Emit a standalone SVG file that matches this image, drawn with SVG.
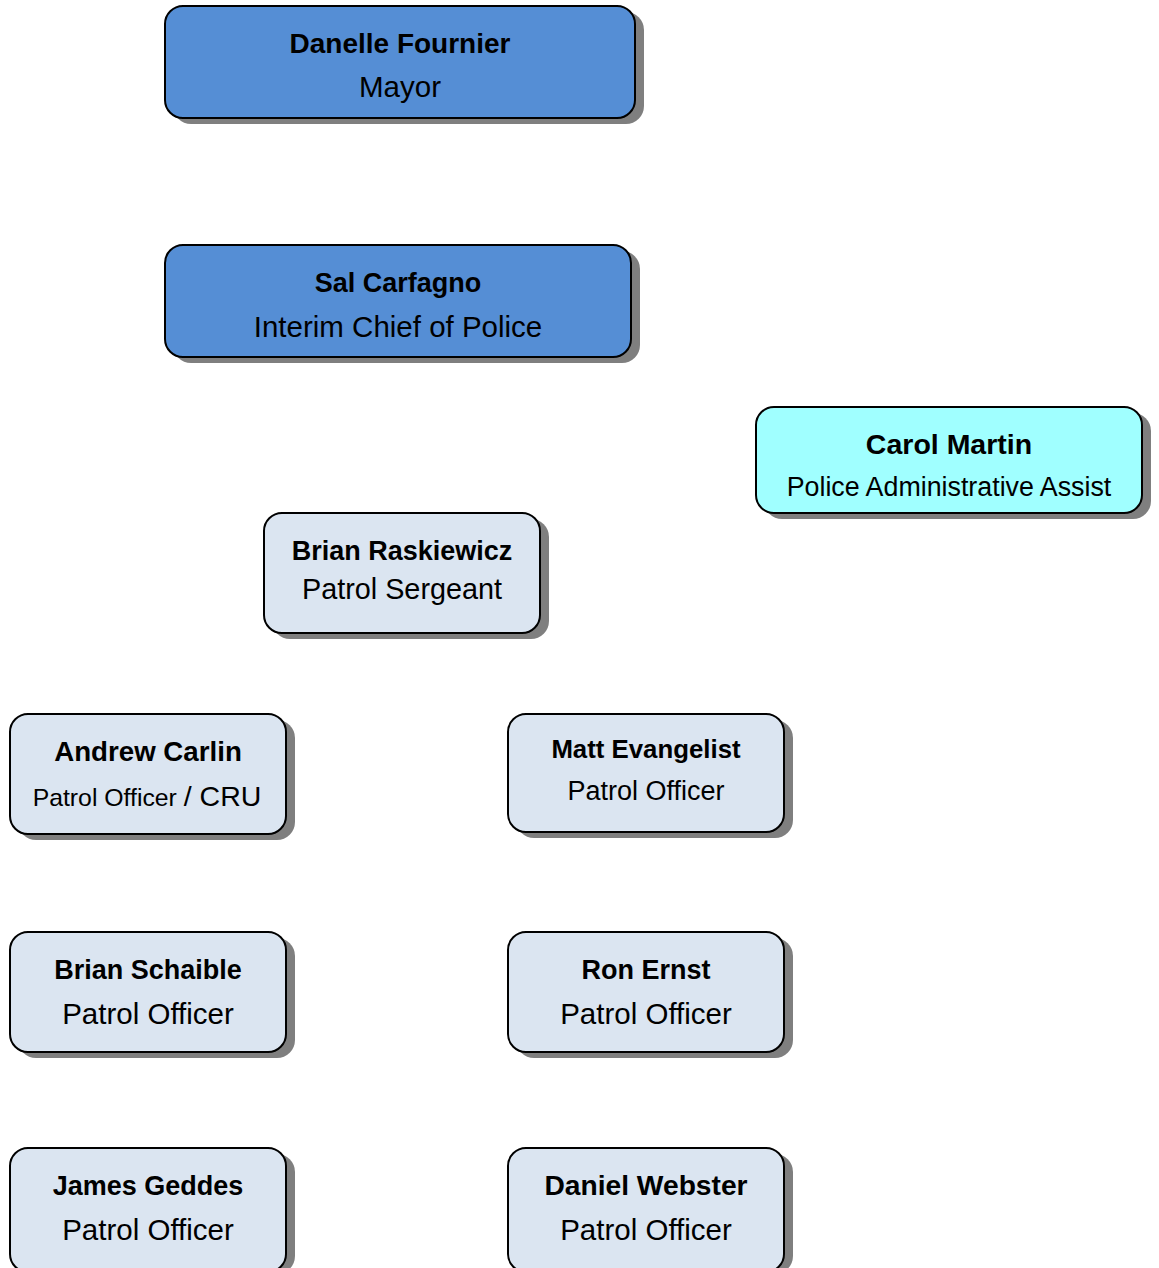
<svg xmlns="http://www.w3.org/2000/svg" width="1159" height="1268" viewBox="0 0 1159 1268">
<style>
.sh{fill:#7f7f7f;}
.bx{stroke:#000;stroke-width:2;}
.blue{fill:#558ED5;}
.cyan{fill:#A0FFFF;}
.lt{fill:#DBE5F1;}
text{font-family:"Liberation Sans",Arial,sans-serif;text-anchor:middle;fill:#000;}
.n{font-weight:bold;font-size:27px;}
.t{font-size:29.5px;}
</style>
<rect width="1159" height="1268" fill="#fff"/>
<g id="connectors"></g>
<g id="node-fournier">
<rect class="sh" x="173" y="12" width="471" height="112" rx="18"/>
<rect class="bx blue" x="165" y="6" width="470" height="112" rx="18"/>
<text class="n" x="400" y="53" style="font-size:28px">Danelle Fournier</text>
<text class="t" x="400" y="97">Mayor</text>
</g>
<g id="node-carfagno">
<rect class="sh" x="173" y="251" width="467" height="112" rx="18"/>
<rect class="bx blue" x="165" y="245" width="466" height="112" rx="18"/>
<text class="n" x="398" y="292">Sal Carfagno</text>
<text class="t" x="398" y="337">Interim Chief of Police</text>
</g>
<g id="node-martin">
<rect class="sh" x="764" y="413" width="387" height="106" rx="18"/>
<rect class="bx cyan" x="756" y="407" width="386" height="106" rx="18"/>
<text class="n" x="949" y="454" style="font-size:28.5px">Carol Martin</text>
<text x="949" y="496" style="font-size:26.8px">Police Administrative Assist</text>
</g>
<g id="node-raskiewicz">
<rect class="sh" x="272" y="519" width="277" height="120" rx="18"/>
<rect class="bx lt" x="264" y="513" width="276" height="120" rx="18"/>
<text class="n" x="402" y="560">Brian Raskiewicz</text>
<text class="t" x="402" y="599" style="font-size:28.8px">Patrol Sergeant</text>
</g>
<g id="node-carlin">
<rect class="sh" x="18" y="720" width="277" height="120" rx="18"/>
<rect class="bx lt" x="10" y="714" width="276" height="120" rx="18"/>
<text class="n" x="148" y="761" style="font-size:27.7px">Andrew Carlin</text>
<text x="147" y="806" style="font-size:24.8px">Patrol Officer <tspan style="font-size:28.5px">/ CRU</tspan></text>
</g>
<g id="node-evangelist">
<rect class="sh" x="516" y="720" width="277" height="118" rx="18"/>
<rect class="bx lt" x="508" y="714" width="276" height="118" rx="18"/>
<text class="n" x="646" y="758" style="font-size:25.8px">Matt Evangelist</text>
<text x="646" y="800" style="font-size:27px">Patrol Officer</text>
</g>
<g id="node-schaible">
<rect class="sh" x="18" y="938" width="277" height="120" rx="18"/>
<rect class="bx lt" x="10" y="932" width="276" height="120" rx="18"/>
<text class="n" x="148" y="979">Brian Schaible</text>
<text class="t" x="148" y="1024">Patrol Officer</text>
</g>
<g id="node-ernst">
<rect class="sh" x="516" y="938" width="277" height="120" rx="18"/>
<rect class="bx lt" x="508" y="932" width="276" height="120" rx="18"/>
<text class="n" x="646" y="979">Ron Ernst</text>
<text class="t" x="646" y="1024">Patrol Officer</text>
</g>
<g id="node-geddes">
<rect class="sh" x="18" y="1154" width="277" height="120" rx="18"/>
<rect class="bx lt" x="10" y="1148" width="276" height="124" rx="18"/>
<text class="n" x="148" y="1195">James Geddes</text>
<text class="t" x="148" y="1240">Patrol Officer</text>
</g>
<g id="node-webster">
<rect class="sh" x="516" y="1154" width="277" height="120" rx="18"/>
<rect class="bx lt" x="508" y="1148" width="276" height="124" rx="18"/>
<text class="n" x="646" y="1195" style="font-size:28.2px">Daniel Webster</text>
<text class="t" x="646" y="1240">Patrol Officer</text>
</g>
</svg>
